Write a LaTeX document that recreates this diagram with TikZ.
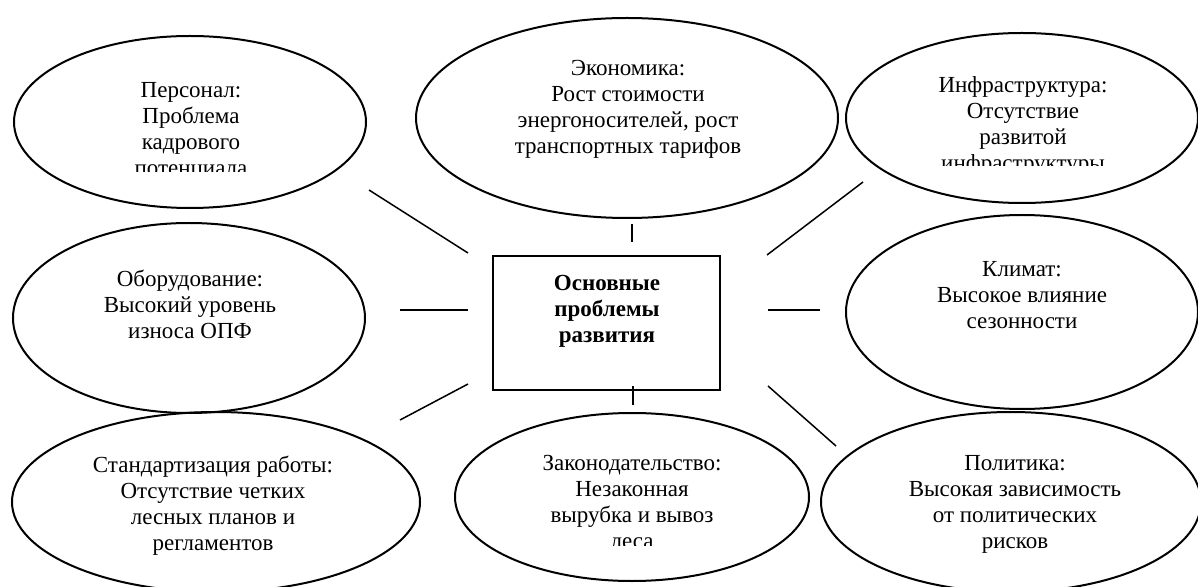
\documentclass[tikz,border=0pt]{standalone}
\usepackage{fontspec}
\setmainfont{Liberation Serif}
\usetikzlibrary{shapes.geometric}
\begin{document}
\begin{tikzpicture}[x=0.5pt,y=-0.5pt,
  oval/.style={draw, line width=1pt, ellipse, inner sep=0pt},
  txt/.style={align=center, inner sep=0pt, anchor=north, font=\fontsize{11.5}{13}\selectfont},
  boldtxt/.style={txt, font=\fontsize{11.5}{13}\selectfont\bfseries},
  core/.style={draw, line width=1pt, inner sep=0pt, rectangle},
  link/.style={line width=0.75pt}]
\fill[white] (0,0) rectangle (1198,587);
\useasboundingbox (0,0) rectangle (1198,587);

% ellipses (minimum width = rx pt, minimum height = ry pt)
\node[oval, minimum width=176pt, minimum height=86pt] (pers) at (190,122) {};
\node[oval, minimum width=211pt, minimum height=100pt] (econ) at (627,118) {};
\node[oval, minimum width=176pt, minimum height=85pt] (infra) at (1022,118) {};
\node[oval, minimum width=176pt, minimum height=95pt] (equip) at (189,318) {};
\node[oval, minimum width=176pt, minimum height=97pt] (clim) at (1022,312) {};
\node[oval, minimum width=204pt, minimum height=90pt] (std) at (216,502) {};
\node[oval, minimum width=177pt, minimum height=84pt] (law) at (632,497) {};
\node[oval, minimum width=190pt, minimum height=90pt] (pol) at (1011,502) {};

% central box
\node[core, minimum width=113.5pt, minimum height=67pt] (core) at (606.5,323) {};
\node[boldtxt] (coret) at (607,275) {Основные\\проблемы\\развития};

% texts
\begin{scope}
  \clip (20,60) rectangle (360,172);
  \node[txt] (perst) at (191,82) {Персонал:\\Проблема\\кадрового\\потенциала};
\end{scope}
\node[txt] (econt) at (628,60) {Экономика:\\Рост стоимости\\энергоносителей, рост\\транспортных тарифов};
\begin{scope}
  \clip (860,50) rectangle (1190,166);
  \node[txt] (infrat) at (1023,76) {Инфраструктура:\\Отсутствие\\развитой\\инфраструктуры};
\end{scope}
\node[txt] (equipt) at (190,270) {Оборудование:\\Высокий уровень\\износа ОПФ};
\node[txt] (climt) at (1022,261) {Климат:\\Высокое влияние\\сезонности};
\node[txt] (stdt) at (213,456) {Стандартизация работы:\\Отсутствие четких\\лесных планов и\\регламентов};
\begin{scope}
  \clip (470,430) rectangle (800,545);
  \node[txt] (lawt) at (632,455) {Законодательство:\\Незаконная\\вырубка и вывоз\\леса};
\end{scope}
\node[txt] (polt) at (1015,455) {Политика:\\Высокая зависимость\\от политических\\рисков};

% connector end points
\coordinate (a1) at (369,190); \coordinate (b1) at (468,253);
\coordinate (a2) at (632,224); \coordinate (b2) at (632,242);
\coordinate (a3) at (863,182); \coordinate (b3) at (767,255);
\coordinate (a4) at (400,310); \coordinate (b4) at (468,310);
\coordinate (a5) at (820,310); \coordinate (b5) at (768,310);
\coordinate (a6) at (400,420); \coordinate (b6) at (468,384);
\coordinate (a7) at (633,405); \coordinate (b7) at (633,386);
\coordinate (a8) at (836,446); \coordinate (b8) at (768,386);

\draw[link] (a1) -- (b1);
\draw[link] (a2) -- (b2);
\draw[link] (a3) -- (b3);
\draw[link] (a4) -- (b4);
\draw[link] (a5) -- (b5);
\draw[link] (a6) -- (b6);
\draw[link] (a7) -- (b7);
\draw[link] (a8) -- (b8);
\end{tikzpicture}
\end{document}
